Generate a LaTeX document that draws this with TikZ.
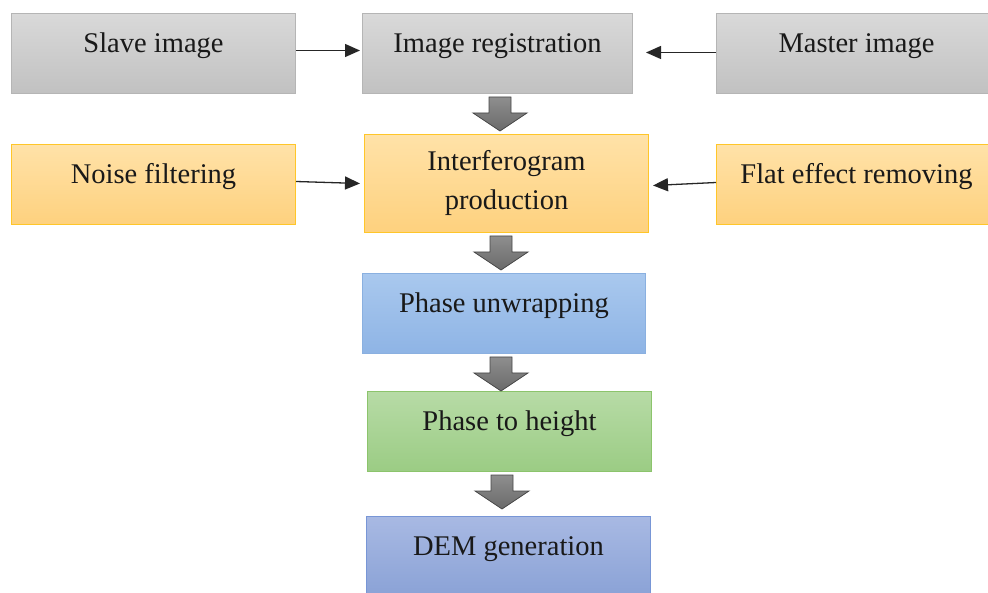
\documentclass[tikz,border=0pt]{standalone}
\usepackage{fontspec}
\setmainfont{Liberation Serif}
\usetikzlibrary{arrows.meta,calc}

\definecolor{grayTop}{HTML}{D9D9D9}
\definecolor{grayBot}{HTML}{C1C1C1}
\definecolor{grayLine}{HTML}{B5B5B5}
\definecolor{orTop}{HTML}{FFE2A8}
\definecolor{orBot}{HTML}{FED17E}
\definecolor{orLine}{HTML}{FFC629}
\definecolor{blTop}{HTML}{A9C8EE}
\definecolor{blBot}{HTML}{8EB4E5}
\definecolor{blLine}{HTML}{8AB0E0}
\definecolor{grTop}{HTML}{B7DBA6}
\definecolor{grBot}{HTML}{9BCC84}
\definecolor{grLine}{HTML}{8CC46C}
\definecolor{dmTop}{HTML}{A8B9E3}
\definecolor{dmBot}{HTML}{8AA2D6}
\definecolor{dmLine}{HTML}{7896D6}
\definecolor{arTop}{HTML}{8E8E8E}
\definecolor{arBot}{HTML}{6A6A6A}
\definecolor{arLine}{HTML}{474747}

\tikzset{
  box/.style={rectangle, inner sep=0pt, line width=1pt, anchor=north west,
    font=\fontsize{28.5}{39}\selectfont, text=black!90},
  oneline/.style={text height=39pt, text depth=41pt},
  graybox/.style={box, draw=grayLine, top color=grayTop, bottom color=grayBot},
  orangebox/.style={box, draw=orLine, top color=orTop, bottom color=orBot},
  bluebox/.style={box, draw=blLine, top color=blTop, bottom color=blBot},
  greenbox/.style={box, draw=grLine, top color=grTop, bottom color=grBot},
  dembox/.style={box, draw=dmLine, top color=dmTop, bottom color=dmBot},
  feed/.style={-{Triangle[length=15pt,width=13pt]}, line width=1.3pt, black!85},
  blockarrow/.style={draw=arLine, line width=0.8pt, top color=arTop, bottom color=arBot}
}

% hollow block arrow pointing down, placed just below node #1
\newcommand\flowdown[2]{%
  \path[blockarrow] let \p1=(#1.south) in
    (#2-11,\y1-3pt) -- (#2+11,\y1-3pt) -- (#2+11,\y1-19pt) -- (#2+27,\y1-19pt)
    -- (#2,\y1-37pt) -- (#2-27,\y1-19pt) -- (#2-11,\y1-19pt) -- cycle;}

\begin{document}
\begin{tikzpicture}[x=1pt,y=-1pt]
\useasboundingbox (0,0) rectangle (988,593);

% upper row
\node[graybox, oneline, minimum width=284pt] (slave) at (11,13) {Slave image};
\node[graybox, oneline, minimum width=270pt] (reg) at (362,13) {Image registration};
\node[graybox, oneline, minimum width=274pt] (master) at (716,13) {\hspace*{6pt}Master image};

% second row
\node[orangebox, oneline, minimum width=284pt] (noise) at (11,144) {Noise filtering};
\node[orangebox, minimum width=284pt, minimum height=98pt, align=center] (interf) at (364,134)
  {Interferogram\\production};
\node[orangebox, oneline, minimum width=274pt] (flat) at (716,144) {\hspace*{6pt}Flat effect removing};

% processing chain
\node[bluebox, oneline, minimum width=283pt] (unwrap) at (362,273) {Phase unwrapping};
\node[greenbox, oneline, minimum width=284pt] (p2h) at (367,391) {Phase to height};
\node[dembox, oneline, minimum width=284pt] (dem) at (366,516) {DEM generation};

% feeding arrows
\draw[feed] ([yshift=3pt]slave.east) -- ([xshift=-2pt,yshift=3pt]reg.west);
\draw[feed] ([yshift=1pt]master.west) -- ([xshift=13pt,yshift=1pt]reg.east);
\draw[feed] ([yshift=3pt]noise.east) -- ([xshift=-4pt]interf.west);
\draw[feed] ([yshift=2pt]flat.west) -- ([xshift=4pt,yshift=-2pt]interf.east);

% block arrows between stages
\flowdown{reg}{500}
\flowdown{interf}{501}
\flowdown{unwrap}{501}
\flowdown{p2h}{502}
\end{tikzpicture}
\end{document}
